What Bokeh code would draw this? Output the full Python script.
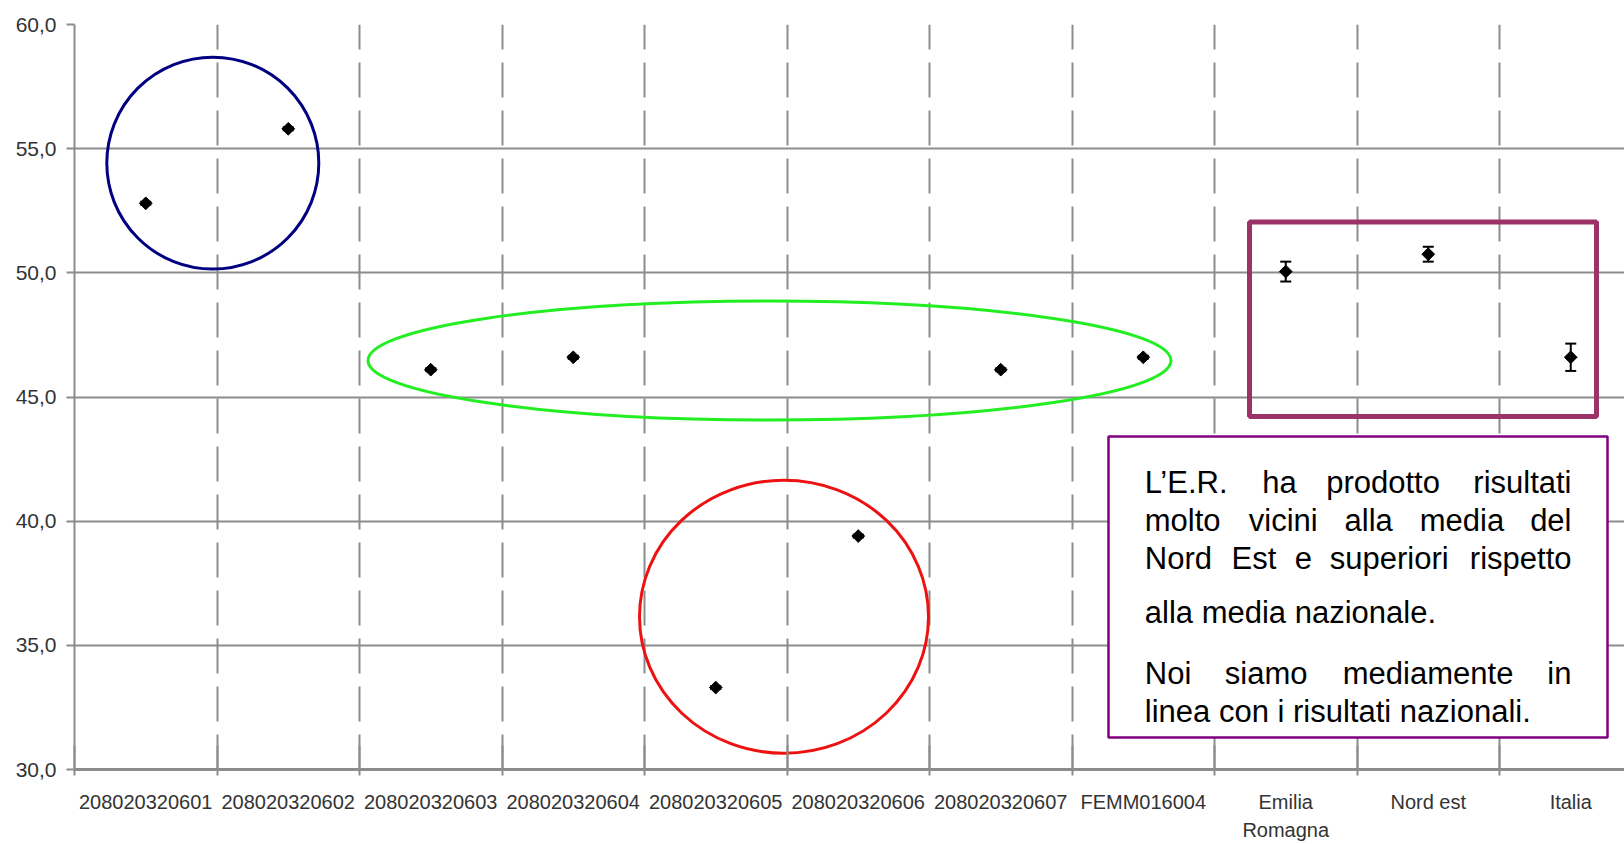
from math import pi
from bokeh.plotting import figure
from bokeh.models import (Range1d, FixedTicker, CustomJSTickFormatter, Whisker,
                          ColumnDataSource, BoxAnnotation, Label, TeeHead)
from bokeh.embed import file_html
from bokeh.resources import INLINE

# ---------------- data ----------------
categories = ["208020320601", "208020320602", "208020320603", "208020320604",
              "208020320605", "208020320606", "208020320607", "FEMM016004",
              "Emilia Romagna", "Nord est", "Italia"]
tick_labels = ["208020320601", "208020320602", "208020320603", "208020320604",
               "208020320605", "208020320606", "208020320607", "FEMM016004",
               "Emilia\nRomagna", "Nord est", "Italia"]
values = [52.8, 55.8, 46.1, 46.6, 33.3, 39.4, 46.1, 46.6, 50.05, 50.75, 46.6]
errors = [0.06, 0.06, 0.06, 0.06, 0.06, 0.06, 0.06, 0.06, 0.4, 0.3, 0.55]
y_ticks = [30, 35, 40, 45, 50, 55, 60]

# ---------------- layout helpers (page pixels -> data) ----------------
W, H = 1624, 844
FL, FT, FB = 74, 24, 769          # frame left/top/bottom in page px
PX_CAT = 142.5
X_START = -0.5
X_END = X_START + (W - FL) / PX_CAT
PX_UNIT = (FB - FT) / 30.0
TEXT_SHIFT = 10                   # baseline correction for the note text (px)


def xd(px):
    return X_START + (px - FL) / PX_CAT


def yd(py):
    return 60 - (py - FT) / PX_UNIT


n = len(categories)
xs = list(range(n))
src = ColumnDataSource(dict(
    x=xs, y=values,
    upper=[v + e for v, e in zip(values, errors)],
    lower=[v - e for v, e in zip(values, errors)],
))

p = figure(width=W, height=H, output_backend="svg", toolbar_location=None,
           x_range=Range1d(X_START, X_END), y_range=Range1d(30, 60),
           min_border_left=FL, min_border_right=0,
           min_border_top=FT, min_border_bottom=H - FB)
p.outline_line_color = None
p.background_fill_color = "white"

grid_col = "#8c8c8c"
axis_font = "Liberation Sans"

# y axis
p.yaxis.ticker = FixedTicker(ticks=y_ticks)
p.yaxis.formatter = CustomJSTickFormatter(code="return tick.toFixed(1).replace('.', ',');")
p.yaxis.axis_line_color = grid_col
p.yaxis.axis_line_width = 2
p.yaxis.major_tick_line_color = grid_col
p.yaxis.major_tick_line_width = 2
p.yaxis.major_tick_in = 0
p.yaxis.major_tick_out = 8
p.yaxis.minor_tick_line_color = None
p.yaxis.major_label_standoff = 10
p.yaxis.major_label_text_font = axis_font
p.yaxis.major_label_text_font_size = "21px"
p.yaxis.major_label_text_color = "#333333"

# x axis
boundaries = [i - 0.5 for i in range(n + 1)]
p.xaxis.ticker = FixedTicker(ticks=xs, minor_ticks=boundaries)
p.xaxis.formatter = CustomJSTickFormatter(args=dict(labels=tick_labels),
                                          code="return labels[Math.round(tick)] || '';")
p.xaxis.axis_line_color = grid_col
p.xaxis.axis_line_width = 3
p.xaxis.major_tick_line_color = None
p.xaxis.major_tick_in = 0
p.xaxis.major_tick_out = 6
p.xaxis.minor_tick_line_color = grid_col
p.xaxis.minor_tick_line_width = 2
p.xaxis.minor_tick_in = 24
p.xaxis.minor_tick_out = 6
p.xaxis.major_label_standoff = 15
p.xaxis.major_label_text_font = axis_font
p.xaxis.major_label_text_font_size = "20px"
p.xaxis.major_label_text_line_height = 1.3
p.xaxis.major_label_text_color = "#333333"

# grids
p.ygrid.ticker = FixedTicker(ticks=y_ticks)
p.ygrid.grid_line_color = grid_col
p.ygrid.grid_line_width = 2
p.xgrid.ticker = FixedTicker(ticks=boundaries)
p.xgrid.grid_line_color = grid_col
p.xgrid.grid_line_width = 2
p.xgrid.grid_line_dash = "35 13"

# data: error bars + markers
wh = Whisker(source=src, base="x", upper="upper", lower="lower",
             line_color="black", line_width=2,
             upper_head=TeeHead(size=11, line_color="black", line_width=2),
             lower_head=TeeHead(size=11, line_color="black", line_width=2))
p.add_layout(wh)
p.scatter("x", "y", source=src, marker="square", angle=pi / 4, size=9,
          color="black")

# ---------------- annotations ----------------
shapes = [
    # (cx, cy, w, h, colour) in page px
    (212.3, 162.6, 212, 212, "#000080"),
    (769, 360, 803, 119, "#22ee22"),
    (783.5, 616.2, 289, 273, "#ee1111"),
]
for cx, cy, w, h, col in shapes:
    p.ellipse(x=[xd(cx)], y=[yd(cy)], width=[w], height=[h],
              width_units="screen", height_units="screen",
              fill_color=None, line_color=col, line_width=3)

p.add_layout(BoxAnnotation(left=xd(1249), right=xd(1596), top=yd(221.5), bottom=yd(416),
                           fill_alpha=0, line_color="#9b3366", line_alpha=1, line_width=5))
p.add_layout(BoxAnnotation(left=xd(1108), right=xd(1607), top=yd(436), bottom=yd(737),
                           fill_color="white", fill_alpha=1,
                           line_color="#800080", line_alpha=1, line_width=2.5))

words = [
    ("L\u2019E.R.", 1144.3, 491.7, "left"), ("ha", 1261.7, 491.7, "left"),
    ("prodotto", 1325.7, 491.7, "left"), ("risultati", 1571, 491.7, "right"),
    ("molto", 1144.3, 530, "left"), ("vicini", 1248.3, 530, "left"),
    ("alla", 1344, 530, "left"), ("media", 1419.3, 530, "left"), ("del", 1571, 530, "right"),
    ("Nord", 1144.3, 567.7, "left"), ("Est", 1231, 567.7, "left"), ("e", 1294.3, 567.7, "left"),
    ("superiori", 1329.3, 567.7, "left"), ("rispetto", 1571, 567.7, "right"),
    ("alla media nazionale.", 1144.3, 621.7, "left"),
    ("Noi", 1144.3, 683, "left"), ("siamo", 1224.3, 683, "left"),
    ("mediamente", 1342.3, 683, "left"), ("in", 1571, 683, "right"),
    ("linea con i risultati nazionali.", 1144.3, 721, "left"),
]
for t, px, py, al in words:
    p.add_layout(Label(x=xd(px), y=yd(py - TEXT_SHIFT), text=t, text_align=al,
                       text_baseline="alphabetic", text_font="Liberation Sans",
                       text_font_size="31px", text_color="black"))

open("out.html", "w").write(file_html(p, INLINE))
